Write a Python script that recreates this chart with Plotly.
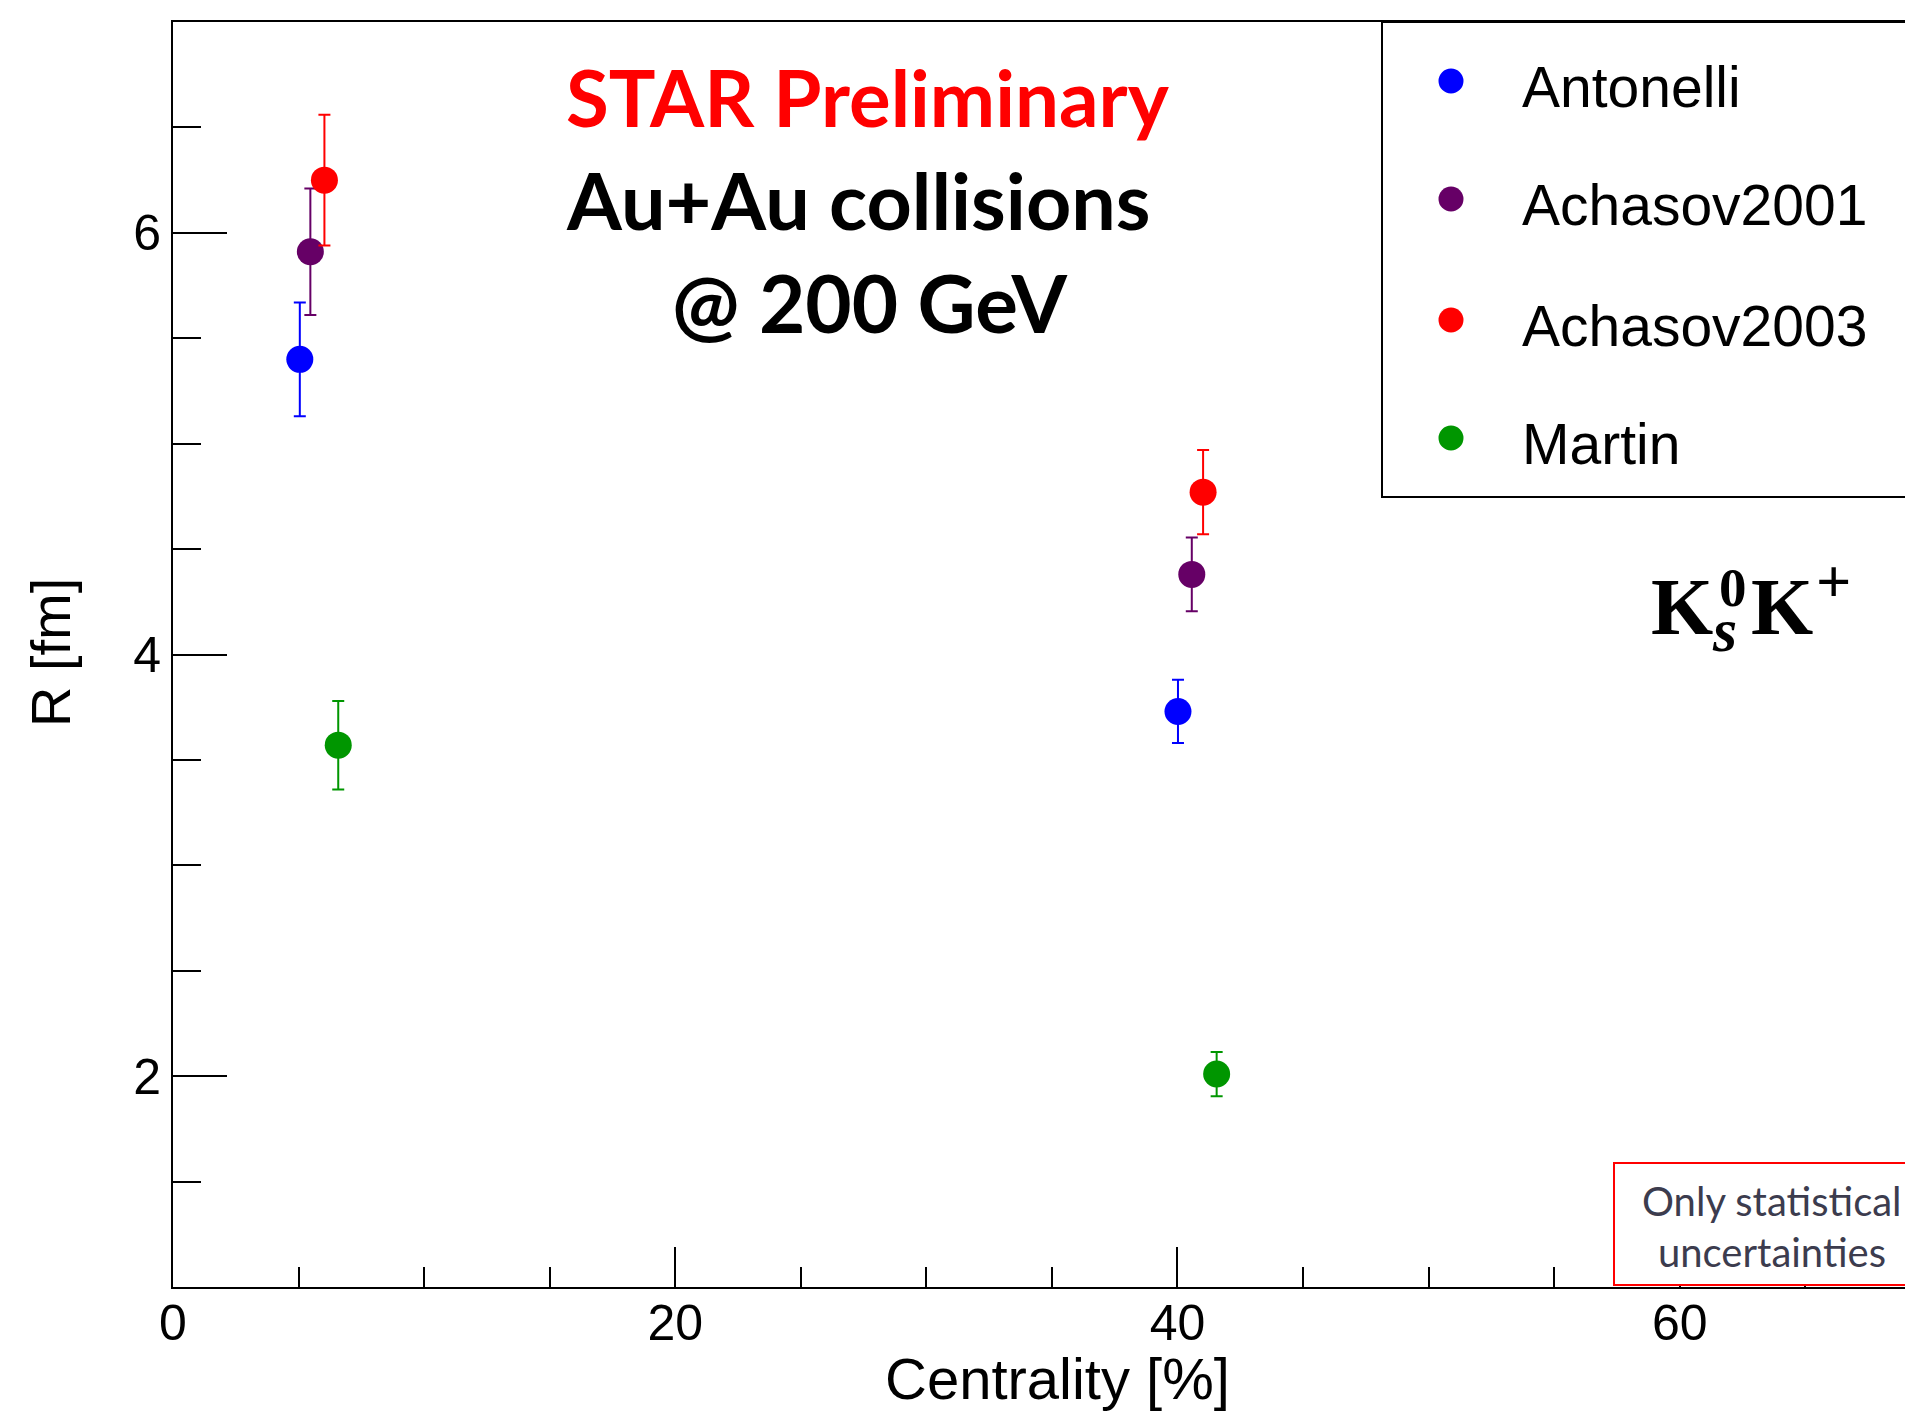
import plotly.graph_objects as go

# ---------------- data ----------------
series_names = ["Antonelli", "Achasov2001", "Achasov2003", "Martin"]
series_colors = ["#0000ff", "#660066", "#ff0000", "#009600"]

centrality_antonelli = [5.05, 40.02]
radius_antonelli = [5.40, 3.73]
error_antonelli = [0.27, 0.15]

centrality_achasov2001 = [5.47, 40.57]
radius_achasov2001 = [5.91, 4.38]
error_achasov2001 = [0.30, 0.175]

centrality_achasov2003 = [6.03, 41.02]
radius_achasov2003 = [6.25, 4.77]
error_achasov2003 = [0.31, 0.20]

centrality_martin = [6.58, 41.56]
radius_martin = [3.57, 2.01]
error_martin = [0.21, 0.105]

x_tick_values = [0, 20, 40, 60]
y_tick_values = [2, 4, 6]

xs = [centrality_antonelli, centrality_achasov2001, centrality_achasov2003, centrality_martin]
ys = [radius_antonelli, radius_achasov2001, radius_achasov2003, radius_martin]
es = [error_antonelli, error_achasov2001, error_achasov2003, error_martin]

# ---------------- geometry ----------------
# page body has an 8px margin; figure is sized so the plot lands where the reference has it
OFF = 8
W, H = 1913 - OFF, 1415 - OFF
PLOT_LEFT, PLOT_TOP, PLOT_BOTTOM = 173, 22, 1287   # page pixels
L, T = PLOT_LEFT - OFF, PLOT_TOP - OFF
B = H - (PLOT_BOTTOM - OFF)
R = 0
PW, PH = W - L - R, H - T - B


def px_x(p):
    return (p - PLOT_LEFT) / PW


def px_y(p):
    return (PLOT_BOTTOM - p) / PH


FONT = "Liberation Sans"

fig = go.Figure()
for name, col, x, y, e in zip(series_names, series_colors, xs, ys, es):
    fig.add_trace(go.Scatter(
        x=x, y=y, mode="markers", name=name, showlegend=False,
        marker=dict(color=col, size=27, line=dict(width=0)),
        error_y=dict(type="data", array=e, visible=True, color=col,
                     thickness=2, width=6),
    ))

fig.update_layout(
    width=W, height=H,
    margin=dict(l=L, r=R, t=T, b=B, pad=0),
    paper_bgcolor="white", plot_bgcolor="white",
    font=dict(family=FONT, color="black"),
    showlegend=False,
)

fig.update_xaxes(
    range=[0, 69.29], showgrid=False, zeroline=False,
    showline=True, linecolor="black", linewidth=2, mirror=True,
    ticks="inside", ticklen=40, tickwidth=2, tickcolor="black",
    tickvals=x_tick_values, ticktext=[str(v) for v in x_tick_values],
    tickfont=dict(family=FONT, size=50, color="black"),
    ticklabelstandoff=-9,
    minor=dict(ticks="inside", ticklen=20, tickwidth=2, tickcolor="black", dtick=5, tick0=0),
)
fig.update_yaxes(
    range=[1, 7], showgrid=False, zeroline=False,
    showline=True, linecolor="black", linewidth=2, mirror=False,
    ticks="inside", ticklen=54, tickwidth=2, tickcolor="black",
    tickvals=y_tick_values, ticktext=[str(v) for v in y_tick_values],
    tickfont=dict(family=FONT, size=50, color="black"),
    ticklabelstandoff=0,
    minor=dict(ticks="inside", ticklen=28, tickwidth=2, tickcolor="black", dtick=0.5, tick0=0),
)

ann = []
# axis titles
ann.append(dict(text="Centrality [%]", x=px_x(1057), y=px_y(1378), xref="paper", yref="paper",
                xanchor="center", yanchor="middle", showarrow=False,
                font=dict(family=FONT, size=58, color="black")))
ann.append(dict(text="R [fm]", x=px_x(50), y=px_y(653), xref="paper", yref="paper",
                xanchor="center", yanchor="middle", showarrow=False, textangle=-90,
                font=dict(family=FONT, size=56, color="black")))

# header texts
HEAD = "Lato"
ann.append(dict(text="<b>STAR Preliminary</b>", x=px_x(565), y=px_y(97), xref="paper", yref="paper",
                xanchor="left", yanchor="middle", showarrow=False, borderpad=0,
                font=dict(family=HEAD, size=78, color="#ff0000")))
ann.append(dict(text="<b>Au+Au collisions</b>", x=px_x(565), y=px_y(200), xref="paper", yref="paper",
                xanchor="left", yanchor="middle", showarrow=False, borderpad=0,
                font=dict(family=HEAD, size=79, color="black")))
ann.append(dict(text="<b>@ 200 GeV</b>", x=px_x(671), y=px_y(302), xref="paper", yref="paper",
                xanchor="left", yanchor="middle", showarrow=False, borderpad=0,
                font=dict(family=HEAD, size=80, color="black")))

# legend (manual box)
legend_y = [81, 199, 320, 438]
shapes = []
shapes.append(dict(type="rect", xref="paper", yref="paper", x0=px_x(1382), x1=px_x(1960),
                   y0=px_y(497), y1=px_y(22), line=dict(color="black", width=2),
                   fillcolor="white", layer="above"))
for name, col, ly in zip(series_names, series_colors, legend_y):
    shapes.append(dict(type="circle", xref="paper", yref="paper", xsizemode="pixel", ysizemode="pixel",
                       xanchor=px_x(1451), yanchor=px_y(ly), x0=-12.5, x1=12.5, y0=-12.5, y1=12.5,
                       fillcolor=col, line=dict(width=0), layer="above"))
    ann.append(dict(text=name, x=px_x(1521), y=px_y(ly + 6), xref="paper", yref="paper",
                    xanchor="left", yanchor="middle", showarrow=False, borderpad=0,
                    font=dict(family=FONT, size=57, color="black")))

# K0s K+ label
SERIF = "Liberation Serif"
ann.append(dict(text="<b>K</b>", x=px_x(1650), y=px_y(607), xref="paper", yref="paper",
                xanchor="left", yanchor="middle", showarrow=False, borderpad=0,
                font=dict(family=SERIF, size=80, color="black")))
ann.append(dict(text="<b>0</b>", x=px_x(1718), y=px_y(587), xref="paper", yref="paper",
                xanchor="left", yanchor="middle", showarrow=False, borderpad=0,
                font=dict(family=SERIF, size=55, color="black")))
ann.append(dict(text="<b><i>s</i></b>", x=px_x(1711), y=px_y(630), xref="paper", yref="paper",
                xanchor="left", yanchor="middle", showarrow=False, borderpad=0,
                font=dict(family=SERIF, size=62, color="black")))
ann.append(dict(text="<b>K</b>", x=px_x(1750), y=px_y(607), xref="paper", yref="paper",
                xanchor="left", yanchor="middle", showarrow=False, borderpad=0,
                font=dict(family=SERIF, size=80, color="black")))
ann.append(dict(text="<b>+</b>", x=px_x(1815), y=px_y(581), xref="paper", yref="paper",
                xanchor="left", yanchor="middle", showarrow=False, borderpad=0,
                font=dict(family=SERIF, size=62, color="black")))

# statistical-uncertainty note
shapes.append(dict(type="rect", xref="paper", yref="paper", x0=px_x(1614), x1=px_x(1960),
                   y0=px_y(1285), y1=px_y(1163), line=dict(color="#ff0000", width=2),
                   fillcolor="white", layer="above"))
ann.append(dict(text="Only statistical", x=px_x(1772), y=px_y(1201), xref="paper", yref="paper",
                xanchor="center", yanchor="middle", showarrow=False, borderpad=0,
                font=dict(family="Lato", size=40, color="#3c3c4e")))
ann.append(dict(text="uncertainties", x=px_x(1772), y=px_y(1252), xref="paper", yref="paper",
                xanchor="center", yanchor="middle", showarrow=False, borderpad=0,
                font=dict(family="Lato", size=40, color="#3c3c4e")))

fig.update_layout(annotations=ann, shapes=shapes)

fig.write_html("out.html")
